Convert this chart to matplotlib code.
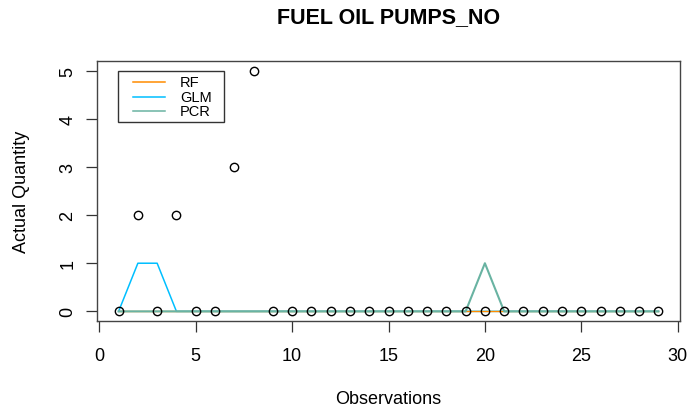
import matplotlib
matplotlib.use("Agg")
import matplotlib.pyplot as plt
from matplotlib.patches import Rectangle
from matplotlib.lines import Line2D

plt.rcParams['font.family'] = ['Liberation Sans', 'DejaVu Sans']

observations = list(range(1, 30))
actual = [0, 2, 0, 2, 0, 0, 3, 5] + [0] * 21
rf_pred = [0] * 29
glm_pred = [0, 1, 1, 0] + [0] * 25
pcr_pred = [0] * 19 + [1] + [0] * 9

series_names = ["RF", "GLM", "PCR"]
series_colors = {"RF": "#FF8C00", "GLM": "#00BFFF", "PCR": "#69b3a2"}

fig = plt.figure(figsize=(6.88, 4.14), dpi=100)
ax = fig.add_axes([97/688, 1 - 322/414, (680-97)/688, (322-62)/414])

ax.plot(observations, actual, linestyle='none', marker='o', markersize=6,
        markerfacecolor='none', markeredgecolor='black', markeredgewidth=1.0, zorder=5)
ax.plot(observations, glm_pred, color=series_colors["GLM"], lw=1.1, zorder=2)
ax.plot(observations, rf_pred, color=series_colors["RF"], lw=1.0, zorder=3)
ax.plot(observations, pcr_pred, color=series_colors["PCR"], lw=1.5, zorder=4)

ax.set_xlim(-0.12, 30.12)
ax.set_ylim(-0.2, 5.2)
ax.set_xticks([0, 5, 10, 15, 20, 25, 30])
ax.set_yticks([0, 1, 2, 3, 4, 5])
ax.tick_params(axis='both', direction='out', length=8, width=0.9, labelsize=13,
               color='#333333', labelcolor='black')
ax.tick_params(axis='x', pad=11)
ax.tick_params(axis='y', pad=7)
for lbl in ax.get_yticklabels():
    lbl.set_rotation(90)
    lbl.set_va('center')
for s in ax.spines.values():
    s.set_color('#444444')
    s.set_linewidth(1.0)

ax.set_title("FUEL OIL PUMPS_NO", fontsize=15.5, fontweight='bold',
             y=(322-18)/260, va='center', pad=0)
ax.set_xlabel("Observations", fontsize=13, va='center')
ax.xaxis.set_label_coords(0.5, (322-400)/260)
ax.set_ylabel("Actual Quantity", fontsize=13, va='center')
ax.yaxis.set_label_coords((22-97)/583, 0.5)

# legend (R style)
ax.add_patch(Rectangle((0.036, 0.765), 0.182, 0.1965, transform=ax.transAxes,
                       facecolor='white', edgecolor='#333333', lw=1.0, zorder=6))
ys = [0.918, 0.862, 0.806]
for name, yy in zip(series_names, ys):
    ax.add_line(Line2D([0.0617, 0.1166], [yy, yy], transform=ax.transAxes,
                       color=series_colors[name], lw=1.1, zorder=7))
    ax.text(0.142, yy, name, transform=ax.transAxes, fontsize=10.5,
            va='center', ha='left', zorder=7)

fig.savefig("out.png", dpi=100)
